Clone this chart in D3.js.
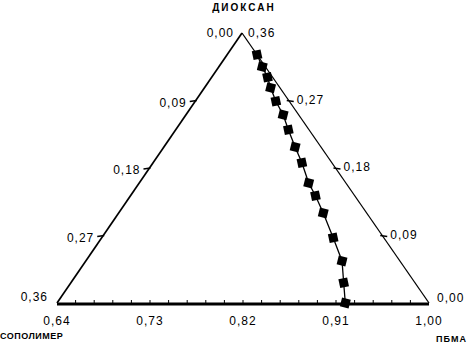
<!DOCTYPE html>
<html>
<head>
<meta charset="utf-8">
<script src="https://cdn.jsdelivr.net/npm/d3@7"></script>
<style>
  body { margin: 0; background: #fff; }
  svg text { font-family: "Liberation Sans", Arial, sans-serif; font-size: 12px; letter-spacing: 1px; fill: #000; }
</style>
</head>
<body>
<div id="chart"></div>
<script>
// mass fractions along the boundary curve (ПБМА = 1 - dioxane - copolymer)
const dioxane   = [0.331, 0.315, 0.301, 0.287, 0.269, 0.251, 0.231, 0.208, 0.187, 0.160, 0.143, 0.120, 0.087, 0.056, 0.027, 0.000]
const copolymer = [0.000, 0.003, 0.005, 0.009, 0.013, 0.015, 0.020, 0.025, 0.029, 0.036, 0.038, 0.042, 0.049, 0.056, 0.069, 0.081]

const bottomTicks = ["0,64", "0,73", "0,82", "0,91", "1,00"]   // ПБМА
const leftTicks   = ["0,00", "0,09", "0,18", "0,27", "0,36"]   // copolymer, apex -> bottom-left
const rightTicks  = ["0,00", "0,09", "0,18", "0,27", "0,36"]   // dioxane, bottom-right -> apex
const axisNames   = { top: "ДИОКСАН", left: "СОПОЛИМЕР", right: "ПБМА" }

const width = 474
const height = 343

const svg = d3.select("#chart")
  .append("svg")
  .attr("width", width)
  .attr("height", height)

// scales
const pScale = d3.scaleLinear().domain([0.64, 1]).range([57, 429])   // ПБМА along base
const dScale = d3.scaleLinear().domain([0, 0.36]).range([303, 33])  // dioxane -> height
const shift  = d3.scaleLinear().domain([0, 0.36]).range([0, 185])   // dioxane -> x lean

const proj = (d, c) => {
  const p = 1 - d - c
  return [pScale(p) + shift(d), dScale(d)]
}

const A = proj(0, 0.36)   // copolymer corner
const B = proj(0, 0)      // ПБМА corner
const C = proj(0.36, 0)   // dioxane corner

// edges
svg.append("line").attr("x1", A[0]).attr("y1", A[1] + 1).attr("x2", B[0]).attr("y2", B[1] + 1)
  .attr("stroke", "#000").attr("stroke-width", 3)
svg.append("line").attr("x1", A[0]).attr("y1", A[1]).attr("x2", C[0]).attr("y2", C[1])
  .attr("stroke", "#000").attr("stroke-width", 1.7)
svg.append("line").attr("x1", B[0]).attr("y1", B[1]).attr("x2", C[0]).attr("y2", C[1])
  .attr("stroke", "#000").attr("stroke-width", 1.3)

const steps = d3.range(5).map(i => i * 0.09)
const minor = d3.range(1, 20).map(i => i * 0.018)

// bottom axis
svg.append("g").selectAll("line")
  .data(minor)
  .join("line")
  .attr("x1", d => proj(0, 0.36 - d)[0])
  .attr("x2", d => proj(0, 0.36 - d)[0])
  .attr("y1", A[1] - 3)
  .attr("y2", A[1])
  .attr("stroke", "#000")
  .attr("stroke-width", 1)

svg.append("g").selectAll("text")
  .data(steps)
  .join("text")
  .attr("x", d => proj(0, 0.36 - d)[0])
  .attr("y", A[1] + 22)
  .attr("text-anchor", "middle")
  .text((d, i) => bottomTicks[i])

// left edge (copolymer)
svg.append("g").selectAll("line")
  .data(steps.slice(1, 4))
  .join("line")
  .attr("x1", d => proj(0.36 - d, d)[0] - 6)
  .attr("x2", d => proj(0.36 - d, d)[0] + 1)
  .attr("y1", d => proj(0.36 - d, d)[1] + 1)
  .attr("y2", d => proj(0.36 - d, d)[1])
  .attr("stroke", "#000")
  .attr("stroke-width", 1.4)

svg.append("g").selectAll("text")
  .data(steps)
  .join("text")
  .attr("x", (d, i) => proj(0.36 - d, d)[0] - (i === 0 ? 8 : 9))
  .attr("y", (d, i) => proj(0.36 - d, d)[1] + (i === 0 ? 4 : i === 4 ? -2 : 6))
  .attr("text-anchor", "end")
  .text((d, i) => leftTicks[i])

// right edge (dioxane)
svg.append("g").selectAll("line")
  .data(steps.slice(1, 4))
  .join("line")
  .attr("x1", d => proj(d, 0)[0] - 2)
  .attr("x2", d => proj(d, 0)[0] + 5)
  .attr("y1", d => proj(d, 0)[1])
  .attr("y2", d => proj(d, 0)[1] + 1)
  .attr("stroke", "#000")
  .attr("stroke-width", 1.3)

svg.append("g").selectAll("text")
  .data(steps)
  .join("text")
  .attr("x", (d, i) => proj(d, 0)[0] + (i === 4 ? 6 : 8))
  .attr("y", (d, i) => proj(d, 0)[1] + (i === 4 ? 4 : i === 0 ? -1 : 3))
  .attr("text-anchor", "start")
  .text((d, i) => rightTicks[i])

// axis names
svg.append("text").attr("x", C[0] + 2).attr("y", 11).attr("text-anchor", "middle")
  .style("font-size", "10px").style("font-weight", "bold").style("letter-spacing", "2px")
  .text(axisNames.top)
svg.append("text").attr("x", 0).attr("y", 339)
  .style("font-size", "9px").style("font-weight", "bold").style("letter-spacing", "0.5px")
  .text(axisNames.left)
svg.append("text").attr("x", 467).attr("y", 342).attr("text-anchor", "end")
  .style("font-size", "9px").style("font-weight", "bold").style("letter-spacing", "1px")
  .text(axisNames.right)

// boundary curve
const pts = dioxane.map((d, i) => proj(d, copolymer[i]))

svg.append("path")
  .datum(pts)
  .attr("fill", "none")
  .attr("stroke", "#000")
  .attr("stroke-width", 1.3)
  .attr("d", d3.line())

svg.append("g").selectAll("path")
  .data(pts)
  .join("path")
  .attr("d", d3.symbol().type(d3.symbolSquare).size(80))
  .attr("transform", (d, i) => "translate(" + d + ") rotate(" + (i % 2 ? 14 : -12) + ")")
  .attr("fill", "#000")
</script>
</body>
</html>
